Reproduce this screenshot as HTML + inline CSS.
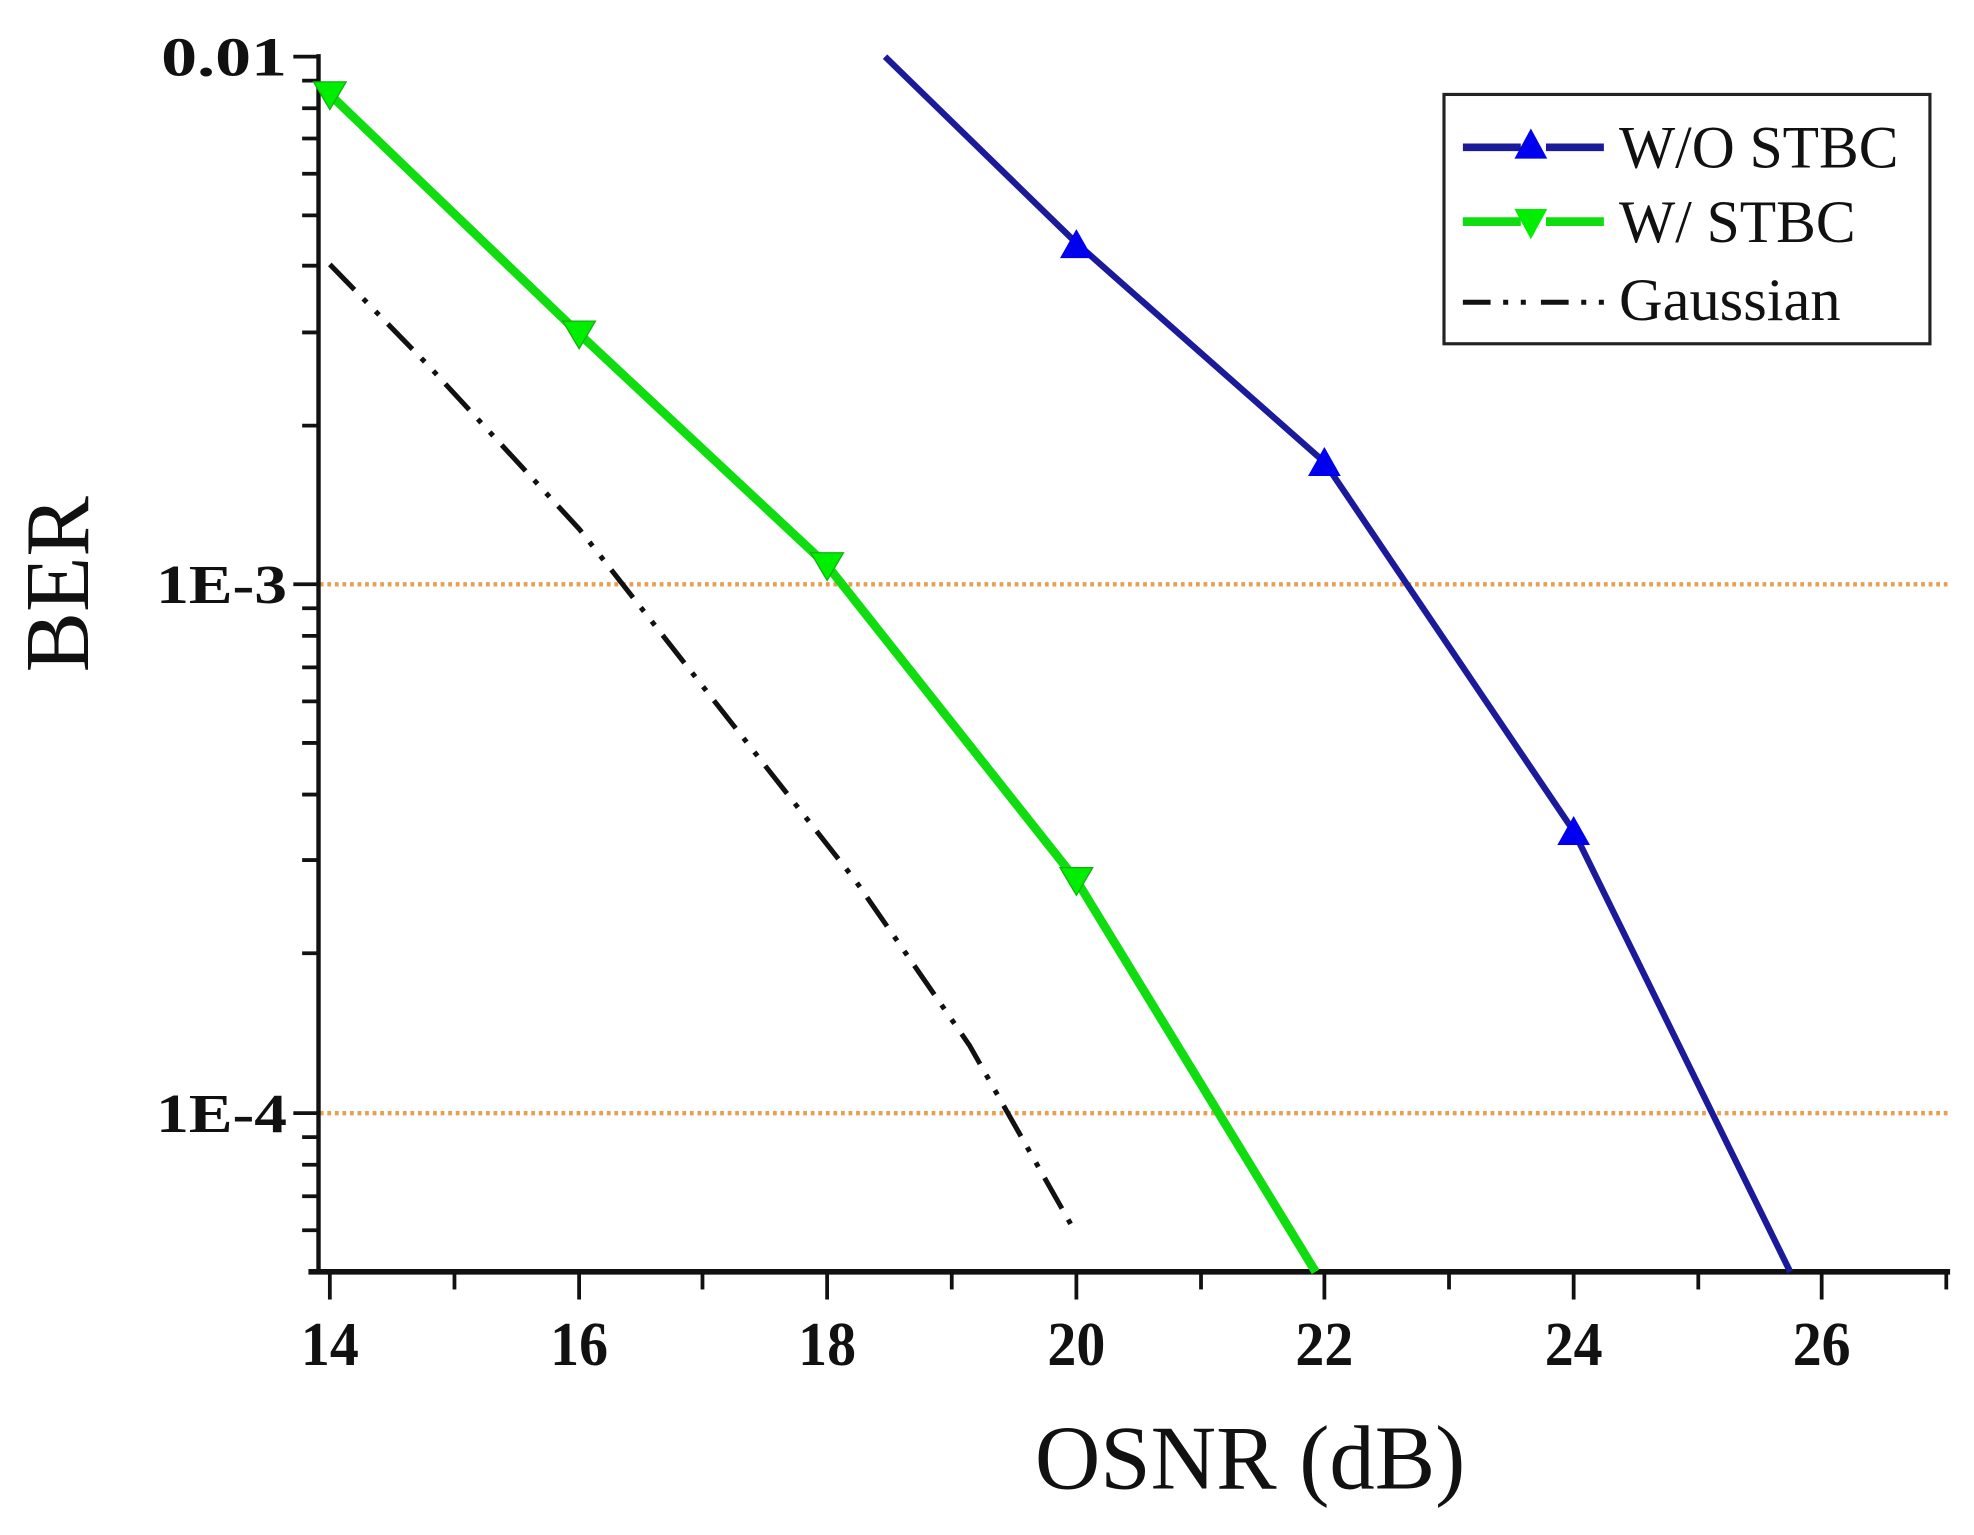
<!DOCTYPE html>
<html><head><meta charset="utf-8"><style>html,body{margin:0;padding:0;background:#fff}svg{display:block}</style></head>
<body>
<svg width="1974" height="1535" viewBox="0 0 1568 1219" preserveAspectRatio="none" xmlns="http://www.w3.org/2000/svg" font-family="Liberation Serif, serif">
<rect width="1568" height="1219" fill="#fff"/>
<line x1="254" y1="464" x2="1548" y2="464" stroke="#e8a050" stroke-width="3.5" stroke-dasharray="3,3"/>
<line x1="254" y1="884" x2="1548" y2="884" stroke="#e8a050" stroke-width="3.5" stroke-dasharray="3,3"/>
<line x1="253" y1="43" x2="253" y2="1012" stroke="#111" stroke-width="3.5"/>
<line x1="245" y1="1010" x2="1549" y2="1010" stroke="#111" stroke-width="4.5"/>
<g stroke="#111" stroke-width="3">
<line x1="233" y1="45" x2="253" y2="45"/><line x1="233" y1="464" x2="253" y2="464"/><line x1="233" y1="884" x2="253" y2="884"/>
<line x1="240" y1="64" x2="253" y2="64"/><line x1="240" y1="86" x2="253" y2="86"/><line x1="240" y1="110" x2="253" y2="110"/><line x1="240" y1="138" x2="253" y2="138"/><line x1="240" y1="171" x2="253" y2="171"/><line x1="240" y1="211" x2="253" y2="211"/><line x1="240" y1="264" x2="253" y2="264"/><line x1="240" y1="338" x2="253" y2="338"/>
<line x1="240" y1="483" x2="253" y2="483"/><line x1="240" y1="505" x2="253" y2="505"/><line x1="240" y1="530" x2="253" y2="530"/><line x1="240" y1="557" x2="253" y2="557"/><line x1="240" y1="590" x2="253" y2="590"/><line x1="240" y1="631" x2="253" y2="631"/><line x1="240" y1="683" x2="253" y2="683"/><line x1="240" y1="757" x2="253" y2="757"/>
<line x1="240" y1="903" x2="253" y2="903"/><line x1="240" y1="925" x2="253" y2="925"/><line x1="240" y1="950" x2="253" y2="950"/><line x1="240" y1="977" x2="253" y2="977"/>
<line x1="262" y1="1010" x2="262" y2="1032"/><line x1="460" y1="1010" x2="460" y2="1032"/><line x1="657" y1="1010" x2="657" y2="1032"/><line x1="855" y1="1010" x2="855" y2="1032"/><line x1="1052" y1="1010" x2="1052" y2="1032"/><line x1="1250" y1="1010" x2="1250" y2="1032"/><line x1="1447" y1="1010" x2="1447" y2="1032"/>
<line x1="361" y1="1010" x2="361" y2="1024"/><line x1="558" y1="1010" x2="558" y2="1024"/><line x1="756" y1="1010" x2="756" y2="1024"/><line x1="954" y1="1010" x2="954" y2="1024"/><line x1="1151" y1="1010" x2="1151" y2="1024"/><line x1="1349" y1="1010" x2="1349" y2="1024"/><line x1="1546" y1="1010" x2="1546" y2="1024"/>
</g>
<g font-weight="bold" font-size="44" fill="#111">
<text x="228" y="60" text-anchor="end" textLength="100" lengthAdjust="spacingAndGlyphs">0.01</text>
<text x="228" y="479" text-anchor="end" textLength="104" lengthAdjust="spacingAndGlyphs">1E-3</text>
<text x="228" y="899" text-anchor="end" textLength="104" lengthAdjust="spacingAndGlyphs">1E-4</text>
</g>
<g font-weight="bold" font-size="50" fill="#111" text-anchor="middle">
<text x="262" y="1084" textLength="46" lengthAdjust="spacingAndGlyphs">14</text><text x="460" y="1084" textLength="46" lengthAdjust="spacingAndGlyphs">16</text><text x="657" y="1084" textLength="46" lengthAdjust="spacingAndGlyphs">18</text><text x="855" y="1084" textLength="46" lengthAdjust="spacingAndGlyphs">20</text><text x="1052" y="1084" textLength="46" lengthAdjust="spacingAndGlyphs">22</text><text x="1250" y="1084" textLength="46" lengthAdjust="spacingAndGlyphs">24</text><text x="1447" y="1084" textLength="46" lengthAdjust="spacingAndGlyphs">26</text>
</g>
<text x="993" y="1182" text-anchor="middle" font-size="72" fill="#111">OSNR (dB)</text>
<text transform="translate(70,464) rotate(-90)" text-anchor="middle" font-size="72" fill="#111">BER</text>
<polyline points="262,210 340,290 460,420 570,560 680,700 770,830 855,980" fill="none" stroke="#111" stroke-width="4" stroke-dasharray="28,10,4,10,4,10"/>
<polyline points="262,75 460,265 657,449 855,699 1045,1010" fill="none" stroke="#10dd10" stroke-width="7"/>
<polyline points="703,45 855,193 1052,367 1250,660 1422,1010" fill="none" stroke="#1a1a9a" stroke-width="5"/>
<g fill="#00ee00" stroke="#10b010" stroke-width="1">
<polygon points="249,65 275,65 262,87"/><polygon points="447,255 473,255 460,277"/><polygon points="644,439 670,439 657,461"/><polygon points="842,689 868,689 855,711"/>
</g>
<g fill="#0000ee">
<polygon points="842,205 868,205 855,182"/><polygon points="1039,378 1065,378 1052,355"/><polygon points="1237,671 1263,671 1250,648"/>
</g>
<rect x="1147" y="75" width="386" height="198" fill="#fff" stroke="#222" stroke-width="2.5"/>
<line x1="1162" y1="117" x2="1275" y2="117" stroke="#1a1a9a" stroke-width="6" stroke-dasharray="46,20"/>
<polygon points="1203,126 1229,126 1216,102" fill="#0000ee"/>
<line x1="1162" y1="176" x2="1275" y2="176" stroke="#10dd10" stroke-width="7" stroke-dasharray="46,20"/>
<polygon points="1203,166 1229,166 1216,190" fill="#00ee00"/>
<line x1="1162" y1="240" x2="1275" y2="240" stroke="#111" stroke-width="4" stroke-dasharray="22,10,4,10,4,12"/>
<g font-size="48" fill="#111"><text x="1286" y="133" textLength="222" lengthAdjust="spacingAndGlyphs">W/O STBC</text><text x="1286" y="192" textLength="188" lengthAdjust="spacingAndGlyphs">W/ STBC</text><text x="1286" y="254" textLength="176" lengthAdjust="spacingAndGlyphs">Gaussian</text></g>
</svg>
</body></html>
